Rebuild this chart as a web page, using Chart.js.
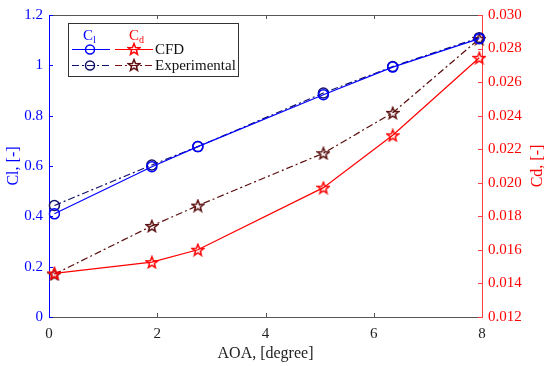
<!DOCTYPE html>
<html>
<head>
<meta charset="utf-8">
<script src="https://cdn.jsdelivr.net/npm/chart.js@4.4.1/dist/chart.umd.min.js"></script>
<style>
  html, body { margin: 0; padding: 0; background: #fff; }
  #wrap { width: 550px; height: 366px; position: relative; }
</style>
</head>
<body>
<div id="wrap"><canvas id="myChart" width="550" height="366"></canvas></div>
<script>
// angle of attack, degrees
var aoa = [0.1, 1.9, 2.75, 5.07, 6.35, 7.95];

// lift coefficient
var clCfd = [0.41, 0.597, 0.677, 0.883, 0.993, 1.106];
var clExp = [0.443, 0.604, 0.677, 0.89, 0.995, 1.11];

// drag coefficient
var cdCfd = [0.0146, 0.01527, 0.01601, 0.01971, 0.02283, 0.02745];
var cdExp = [0.01455, 0.01743, 0.01864, 0.02176, 0.02417, 0.02858];

var xTicks = [0, 2, 4, 6, 8];
var clTicks = [0, 0.2, 0.4, 0.6, 0.8, 1, 1.2];
var cdTicks = [0.012, 0.014, 0.016, 0.018, 0.020, 0.022, 0.024, 0.026, 0.028, 0.030];

var serif = "'Liberation Serif', 'Times New Roman', serif";

function pts(xs, ys) {
    return xs.map(function(x, i) { return {x: x, y: ys[i]}; });
}

// five point star marker
function makeStar(color) {
    var c = document.createElement('canvas');
    c.width = 14; c.height = 14;
    var g = c.getContext('2d');
    g.beginPath();
    for (var i = 0; i < 10; i++) {
        var r = i % 2 === 0 ? 6 : 2.6;
        var a = -Math.PI / 2 + i * Math.PI / 5;
        var px = 7 + r * Math.cos(a), py = 7.6 + r * Math.sin(a);
        if (i === 0) g.moveTo(px, py); else g.lineTo(px, py);
    }
    g.closePath();
    g.strokeStyle = color;
    g.lineWidth = 1.5;
    g.stroke();
    return c;
}
var redStar = makeStar('#ff0000');
var darkStar = makeStar('#5a0c0c');

var dashDot = [7, 3, 2, 3];

// inward ticks, top frame line, right title and the two-column legend
var framePlugin = {
    id: 'frame',
    afterDraw: function(chart) {
        var ctx = chart.ctx;
        var a = chart.chartArea;
        var sx = chart.scales.x, sy = chart.scales.y, sy1 = chart.scales.y1;
        ctx.save();
        ctx.lineWidth = 1;
        ctx.strokeStyle = '#555';
        ctx.beginPath();
        ctx.moveTo(a.left, a.top + 0.5);
        ctx.lineTo(a.right, a.top + 0.5);
        xTicks.forEach(function(v) {
            var p = Math.round(sx.getPixelForValue(v)) + 0.5;
            if (v === 0 || v === 8) return;
            ctx.moveTo(p, a.bottom); ctx.lineTo(p, a.bottom - 4);
            ctx.moveTo(p, a.top); ctx.lineTo(p, a.top + 4);
        });
        ctx.stroke();
        ctx.strokeStyle = '#0000ff';
        ctx.beginPath();
        clTicks.forEach(function(v) {
            var p = Math.round(sy.getPixelForValue(v)) + 0.5;
            ctx.moveTo(a.left, p); ctx.lineTo(a.left + 4, p);
        });
        ctx.stroke();
        ctx.strokeStyle = '#ff4040';
        ctx.beginPath();
        cdTicks.forEach(function(v) {
            var p = Math.round(sy1.getPixelForValue(v)) + 0.5;
            ctx.moveTo(a.right, p); ctx.lineTo(a.right - 4, p);
        });
        ctx.stroke();

        // right axis title, reads bottom to top
        ctx.save();
        ctx.translate(538, (a.top + a.bottom) / 2);
        ctx.rotate(-Math.PI / 2);
        ctx.font = '16px ' + serif;
        ctx.fillStyle = '#ff0000';
        ctx.textAlign = 'center';
        ctx.textBaseline = 'middle';
        ctx.fillText('Cd, [-]', 0, 0);
        ctx.restore();

        // legend box
        var bx = 68, by = 23, bw = 170, bh = 53;
        ctx.fillStyle = '#fff';
        ctx.fillRect(bx, by, bw, bh);
        ctx.strokeStyle = '#333';
        ctx.lineWidth = 1;
        ctx.strokeRect(bx + 0.5, by + 0.5, bw, bh);

        ctx.textBaseline = 'alphabetic';
        ctx.font = '15px ' + serif;
        ctx.fillStyle = '#0000ff';
        ctx.fillText('C', 83, 40);
        ctx.font = '10px ' + serif;
        ctx.fillText('l', 93, 43);
        ctx.font = '15px ' + serif;
        ctx.fillStyle = '#ff0000';
        ctx.fillText('C', 129, 40);
        ctx.font = '10px ' + serif;
        ctx.fillText('d', 139, 43);

        var rows = [
            {y: 49.5, dash: [], c1: '#0000ff', c2: '#ff0000', star: redStar, label: 'CFD'},
            {y: 65.5, dash: dashDot, c1: '#10106a', c2: '#7a1414', star: darkStar, label: 'Experimental'}
        ];
        rows.forEach(function(r) {
            ctx.setLineDash(r.dash);
            ctx.lineWidth = 1;
            ctx.strokeStyle = r.c1;
            ctx.beginPath(); ctx.moveTo(72, r.y); ctx.lineTo(110, r.y); ctx.stroke();
            ctx.strokeStyle = r.c2;
            ctx.beginPath(); ctx.moveTo(115, r.y); ctx.lineTo(153, r.y); ctx.stroke();
            ctx.setLineDash([]);
            ctx.lineWidth = 1.5;
            ctx.strokeStyle = r.c1;
            ctx.beginPath(); ctx.arc(90, r.y, 4.5, 0, Math.PI * 2); ctx.stroke();
            ctx.drawImage(r.star, 134 - 7, r.y - 7.6);
            ctx.fillStyle = '#111';
            ctx.font = '15px ' + serif;
            ctx.textBaseline = 'middle';
            ctx.fillText(r.label, 155, r.y + 1);
        });
        ctx.restore();
    }
};

var myChart = document.getElementById('myChart').getContext('2d');
Chart.defaults.font.family = serif;
Chart.defaults.font.size = 15;

var massChart = new Chart(myChart, {
    type: 'line',
    data: {
        datasets: [
            {
                label: 'Cl CFD',
                data: pts(aoa, clCfd),
                yAxisID: 'y',
                borderColor: '#0000ff',
                backgroundColor: 'rgba(0,0,0,0)',
                borderWidth: 1.2,
                pointStyle: 'circle',
                pointRadius: 5,
                pointBorderWidth: 1.5,
                pointBorderColor: '#0000ff'
            },
            {
                label: 'Cl Experimental',
                data: pts(aoa, clExp),
                yAxisID: 'y',
                borderColor: '#10106a',
                backgroundColor: 'rgba(0,0,0,0)',
                borderWidth: 1.2,
                borderDash: dashDot,
                pointStyle: 'circle',
                pointRadius: 5,
                pointBorderWidth: 1.5,
                pointBorderColor: '#10106a'
            },
            {
                label: 'Cd CFD',
                data: pts(aoa, cdCfd),
                yAxisID: 'y1',
                borderColor: '#ff0000',
                backgroundColor: 'rgba(0,0,0,0)',
                borderWidth: 1.2,
                pointStyle: redStar
            },
            {
                label: 'Cd Experimental',
                data: pts(aoa, cdExp),
                yAxisID: 'y1',
                borderColor: '#5a0c0c',
                backgroundColor: 'rgba(0,0,0,0)',
                borderWidth: 1.2,
                borderDash: dashDot,
                pointStyle: darkStar
            }
        ]
    },
    options: {
        responsive: false,
        animation: false,
        clip: false,
        layout: { padding: { top: 9, left: 0, right: 0, bottom: 0 } },
        plugins: { legend: { display: false }, tooltip: { enabled: false } },
        scales: {
            x: {
                type: 'linear',
                min: 0, max: 8,
                afterFit: function(s) { s.height = 49; },
                afterBuildTicks: function(s) { s.ticks = xTicks.map(function(v) { return {value: v}; }); },
                grid: { drawOnChartArea: false, drawTicks: false },
                border: { color: '#555', width: 1 },
                ticks: { color: '#222', padding: 8, callback: function(v) { return String(v); } },
                title: { display: true, text: 'AOA, [degree]', color: '#222', font: { size: 16 }, padding: 3 }
            },
            y: {
                position: 'left',
                min: 0, max: 1.2,
                afterFit: function(s) { s.width = 49; },
                afterBuildTicks: function(s) { s.ticks = clTicks.map(function(v) { return {value: v}; }); },
                grid: { drawOnChartArea: false, drawTicks: false },
                border: { color: '#0000ff', width: 1 },
                ticks: { color: '#0000ff', padding: 6, callback: function(v) { return String(v); } },
                title: { display: true, text: 'Cl, [-]', color: '#0000ff', font: { size: 16 }, padding: 4 }
            },
            y1: {
                position: 'right',
                min: 0.012, max: 0.030,
                afterFit: function(s) { s.width = 68; },
                afterBuildTicks: function(s) { s.ticks = cdTicks.map(function(v) { return {value: v}; }); },
                grid: { drawOnChartArea: false, drawTicks: false },
                border: { color: '#ff4040', width: 1 },
                ticks: { color: '#ff0000', padding: 6, callback: function(v) { return v.toFixed(3); } },
                title: { display: false }
            }
        }
    },
    plugins: [framePlugin]
});
</script>
</body>
</html>
